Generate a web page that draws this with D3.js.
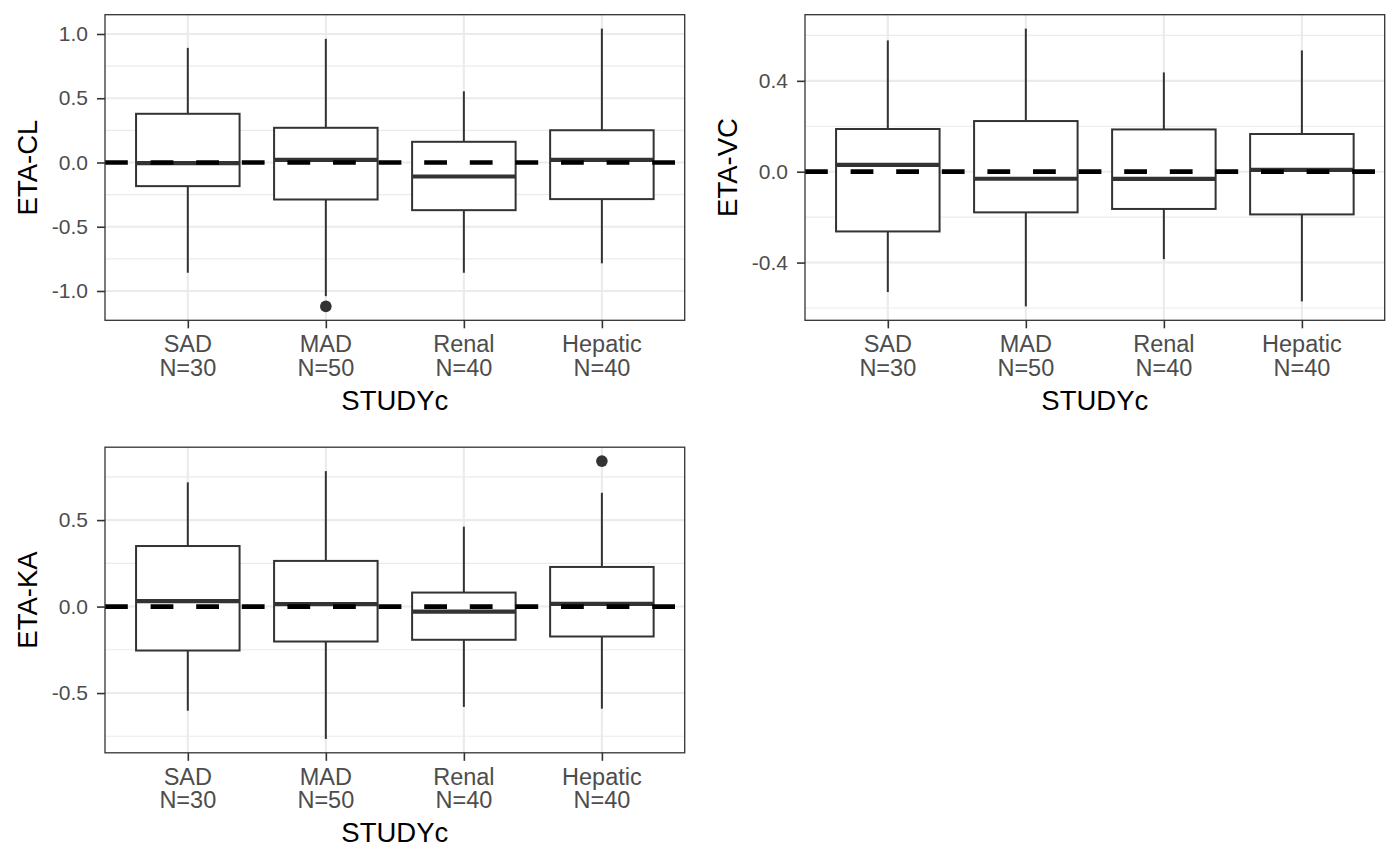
<!DOCTYPE html>
<html>
<head>
<meta charset="utf-8">
<script src="https://cdn.jsdelivr.net/npm/d3@7"></script>
<style>
  body { margin: 0; background: #fff; }
  text { font-family: "Liberation Sans", Arial, sans-serif; }
</style>
</head>
<body>
<svg id="chart" width="1400" height="865"></svg>
<script>
   // studies on the x axis, with their subject counts
   var studies = ["SAD", "MAD", "Renal", "Hepatic"];
   var studyN = ["N=30", "N=50", "N=40", "N=40"];

   // box stats per study: [whisker low, q1, median, q3, whisker high]
   var etaCL = [
      [-0.858, -0.184, -0.005, 0.379, 0.892],
      [-1.040, -0.288, 0.021, 0.270, 0.962],
      [-0.858, -0.371, -0.109, 0.161, 0.554],
      [-0.785, -0.285, 0.021, 0.251, 1.042]
   ];
   var etaCLOutliers = [[], [-1.12], [], []];
   var etaCLTicks = [-1.0, -0.5, 0.0, 0.5, 1.0];

   var etaVC = [
      [-0.530, -0.263, 0.030, 0.188, 0.578],
      [-0.593, -0.179, -0.031, 0.223, 0.630],
      [-0.385, -0.164, -0.032, 0.186, 0.437],
      [-0.571, -0.188, 0.008, 0.166, 0.534]
   ];
   var etaVCOutliers = [[], [], [], []];
   var etaVCTicks = [-0.4, 0.0, 0.4];

   var etaKA = [
      [-0.602, -0.254, 0.031, 0.350, 0.718],
      [-0.765, -0.202, 0.014, 0.264, 0.783],
      [-0.580, -0.192, -0.029, 0.081, 0.462],
      [-0.590, -0.173, 0.016, 0.229, 0.658]
   ];
   var etaKAOutliers = [[], [], [], [0.841]];
   var etaKATicks = [-0.5, 0.0, 0.5];

   var svg = d3.select("#chart");
   var panelW = 579.7, panelH = 305.6;

   function drawPanel(x0, y0, stats, outliers, ticks, yTitle) {
      var g = svg.append("g").attr("transform", "translate(" + x0 + "," + y0 + ")");

      // y range = data extent plus 5% each side, like ggplot
      var all = [];
      stats.forEach(function(s) { all.push(s[0], s[4]); });
      outliers.forEach(function(o) { all = all.concat(o); });
      var lo = d3.min(all), hi = d3.max(all), pad = (hi - lo) * 0.05;

      var y = d3.scaleLinear().domain([lo - pad, hi + pad]).range([panelH, 0]);
      var x = d3.scalePoint().domain(studies).range([0, panelW]).padding(0.6);
      var boxW = x.step() * 0.75;

      // minor grid: halfway between major ticks, plus one step beyond the ends
      var step = ticks[1] - ticks[0];
      var minors = [ticks[0] - step / 2];
      ticks.forEach(function(t) { minors.push(t + step / 2); });
      minors = minors.filter(function(m) { return m > y.domain()[0] && m < y.domain()[1]; });

      g.selectAll(".minor").data(minors).enter().append("line")
         .attr("x1", 0).attr("x2", panelW)
         .attr("y1", function(d) { return y(d); })
         .attr("y2", function(d) { return y(d); })
         .attr("stroke", "#EBEBEB").attr("stroke-width", 1.1);

      g.selectAll(".major").data(ticks).enter().append("line")
         .attr("x1", 0).attr("x2", panelW)
         .attr("y1", function(d) { return y(d); })
         .attr("y2", function(d) { return y(d); })
         .attr("stroke", "#EBEBEB").attr("stroke-width", 2.1);

      g.selectAll(".vgrid").data(studies).enter().append("line")
         .attr("x1", function(d) { return x(d); })
         .attr("x2", function(d) { return x(d); })
         .attr("y1", 0).attr("y2", panelH)
         .attr("stroke", "#EBEBEB").attr("stroke-width", 2.1);

      var box = g.selectAll(".box").data(stats).enter().append("g");

      box.append("line")
         .attr("x1", function(d, i) { return x(studies[i]); })
         .attr("x2", function(d, i) { return x(studies[i]); })
         .attr("y1", function(d) { return y(d[4]); })
         .attr("y2", function(d) { return y(d[3]); })
         .attr("stroke", "#333333").attr("stroke-width", 2);

      box.append("line")
         .attr("x1", function(d, i) { return x(studies[i]); })
         .attr("x2", function(d, i) { return x(studies[i]); })
         .attr("y1", function(d) { return y(d[1]); })
         .attr("y2", function(d) { return y(d[0]); })
         .attr("stroke", "#333333").attr("stroke-width", 2);

      box.append("rect")
         .attr("x", function(d, i) { return x(studies[i]) - boxW / 2; })
         .attr("y", function(d) { return y(d[3]); })
         .attr("width", boxW)
         .attr("height", function(d) { return y(d[1]) - y(d[3]); })
         .attr("fill", "white")
         .attr("stroke", "#333333").attr("stroke-width", 2);

      box.append("line")
         .attr("x1", function(d, i) { return x(studies[i]) - boxW / 2; })
         .attr("x2", function(d, i) { return x(studies[i]) + boxW / 2; })
         .attr("y1", function(d) { return y(d[2]); })
         .attr("y2", function(d) { return y(d[2]); })
         .attr("stroke", "#333333").attr("stroke-width", 4.2);

      outliers.forEach(function(o, i) {
         g.selectAll(".out" + i).data(o).enter().append("circle")
            .attr("cx", x(studies[i]))
            .attr("cy", function(d) { return y(d); })
            .attr("r", 5.8)
            .attr("fill", "#333333");
      });

      // reference line at zero, on top of the boxes
      g.append("line")
         .attr("x1", 0).attr("x2", panelW)
         .attr("y1", y(0)).attr("y2", y(0))
         .attr("stroke", "black").attr("stroke-width", 4.7)
         .attr("stroke-dasharray", "22.8,22.8");

      g.append("rect")
         .attr("width", panelW).attr("height", panelH)
         .attr("fill", "none")
         .attr("stroke", "#333333").attr("stroke-width", 1.3);

      // y axis
      var yAxis = g.append("g").call(d3.axisLeft(y).tickValues(ticks)
         .tickSize(8).tickPadding(9)
         .tickFormat(function(d) { return d.toFixed(1); }));
      yAxis.select(".domain").remove();
      yAxis.selectAll(".tick line").attr("stroke", "#333333").attr("stroke-width", 1.6);
      yAxis.selectAll(".tick text")
         .attr("fill", "#4D4D4D")
         .style("font-size", "21px")
         .style("font-family", "'Liberation Sans', Arial, sans-serif");

      // x axis with two-line labels
      var xAxis = g.append("g").attr("transform", "translate(0," + panelH + ")")
         .call(d3.axisBottom(x).tickSize(8).tickFormat(""));
      xAxis.select(".domain").remove();
      xAxis.selectAll(".tick line").attr("stroke", "#333333").attr("stroke-width", 1.6);

      var lab = g.selectAll(".xlab").data(studies).enter().append("text")
         .attr("x", function(d) { return x(d); })
         .attr("y", panelH + 32)
         .attr("text-anchor", "middle")
         .attr("fill", "#4D4D4D")
         .style("font-size", "23.5px");
      lab.append("tspan").attr("x", function(d) { return x(d); }).text(function(d) { return d; });
      lab.append("tspan").attr("x", function(d) { return x(d); }).attr("dy", 23.7)
         .text(function(d, i) { return studyN[i]; });

      g.append("text")
         .attr("x", panelW / 2).attr("y", panelH + 89.7)
         .attr("text-anchor", "middle")
         .attr("fill", "black")
         .style("font-size", "27.5px")
         .text("STUDYc");

      g.append("text")
         .attr("transform", "translate(-68.3," + (panelH / 2) + ") rotate(-90)")
         .attr("text-anchor", "middle")
         .attr("fill", "black")
         .style("font-size", "27.5px")
         .text(yTitle);
   }

   drawPanel(105, 14.7, etaCL, etaCLOutliers, etaCLTicks, "ETA-CL");
   drawPanel(805, 14.7, etaVC, etaVCOutliers, etaVCTicks, "ETA-VC");
   drawPanel(105, 447.2, etaKA, etaKAOutliers, etaKATicks, "ETA-KA");
</script>
</body>
</html>
